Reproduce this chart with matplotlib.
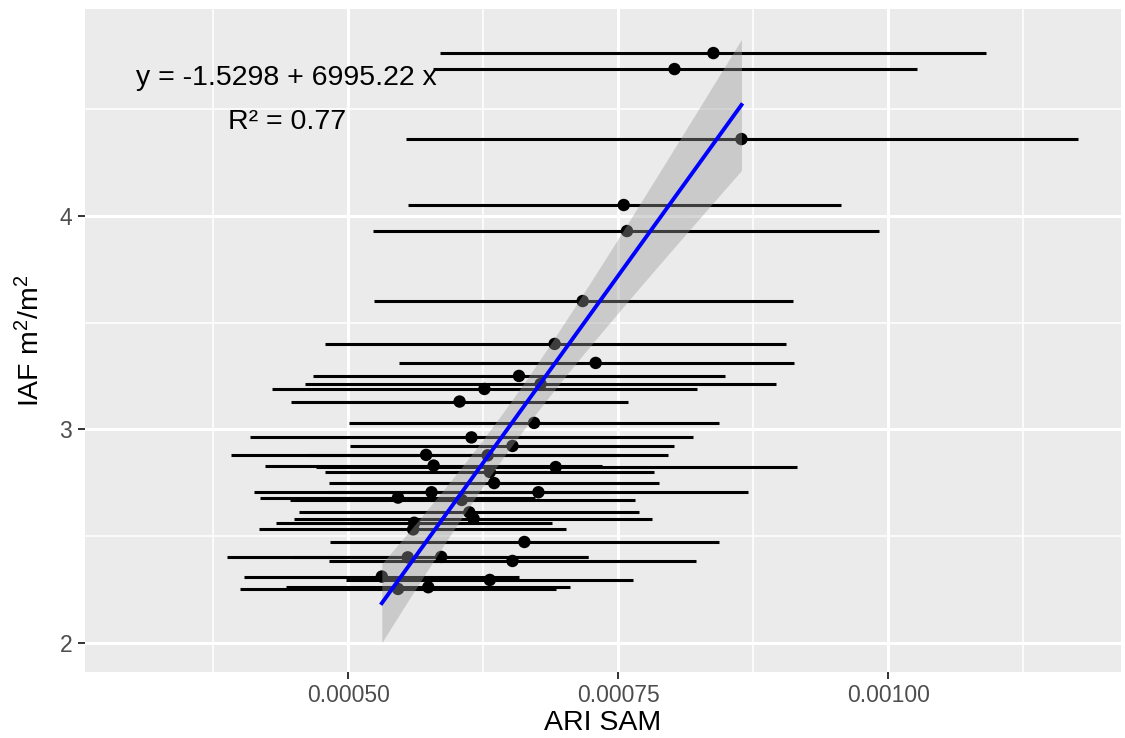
import numpy as np
import matplotlib
matplotlib.use('Agg')
import matplotlib.pyplot as plt

plt.rcParams['font.family'] = ['Liberation Sans', 'DejaVu Sans']
plt.rcParams['mathtext.fontset'] = 'custom'
plt.rcParams['mathtext.rm'] = 'Liberation Sans'
plt.rcParams['mathtext.it'] = 'Liberation Sans'

# ARI SAM (x) with lower / upper error limits, IAF (y)
ari = [0.000838, 0.000802, 0.000864, 0.000755, 0.000758, 0.000717, 0.000691,
       0.000729, 0.000658, 0.000678, 0.000626, 0.000603, 0.000672, 0.000614,
       0.000652, 0.000572, 0.000629, 0.000579, 0.000692, 0.000631, 0.000635,
       0.000577, 0.000676, 0.000546, 0.000605, 0.000612, 0.000616, 0.000561,
       0.000560, 0.000663, 0.000555, 0.000586, 0.000652, 0.000531, 0.000631,
       0.000574, 0.000546]
ari_lo = [0.000585, 0.000578, 0.000553, 0.000555, 0.000523, 0.000524, 0.000478,
          0.000547, 0.000467, 0.000460, 0.000429, 0.000447, 0.000501, 0.000409,
          0.000502, 0.000391, 0.000462, 0.000423, 0.000470, 0.000478, 0.000482,
          0.000413, 0.000481, 0.000418, 0.000446, 0.000454, 0.000450, 0.000433,
          0.000417, 0.000483, 0.000388, 0.000449, 0.000482, 0.000403, 0.000498,
          0.000442, 0.000400]
ari_hi = [0.001090, 0.001027, 0.001176, 0.000956, 0.000991, 0.000912, 0.000905,
          0.000913, 0.000849, 0.000896, 0.000823, 0.000759, 0.000843, 0.000819,
          0.000802, 0.000752, 0.000796, 0.000735, 0.000915, 0.000783, 0.000788,
          0.000741, 0.000870, 0.000673, 0.000765, 0.000769, 0.000781, 0.000689,
          0.000702, 0.000843, 0.000722, 0.000722, 0.000822, 0.000658, 0.000764,
          0.000705, 0.000692]
iaf = [4.763, 4.688, 4.360, 4.051, 3.929, 3.601, 3.400, 3.311, 3.250, 3.212,
       3.189, 3.130, 3.030, 2.962, 2.922, 2.880, 2.878, 2.830, 2.823, 2.800,
       2.748, 2.705, 2.705, 2.680, 2.669, 2.611, 2.581, 2.562, 2.531, 2.472,
       2.400, 2.402, 2.383, 2.310, 2.294, 2.260, 2.252]

eq_label = 'y = -1.5298 + 6995.22 x'
r2_label = 'R² = 0.77'

x = np.array(ari)
y = np.array(iaf)

# linear fit with 95% confidence band (like geom_smooth(method='lm'))
slope, intercept = np.polyfit(x, y, 1)
n = len(x)
resid = y - (intercept + slope * x)
s = np.sqrt(np.sum(resid ** 2) / (n - 2))
sxx = np.sum((x - x.mean()) ** 2)
t_val = 2.03
xs = np.linspace(x.min(), x.max(), 100)
ys = intercept + slope * xs
se = s * np.sqrt(1.0 / n + (xs - x.mean()) ** 2 / sxx)

fig = plt.figure(figsize=(11.25, 7.38), dpi=100)
ax = fig.add_axes([0.0752, 0.0898, 0.9212, 0.8976])
ax.set_facecolor('#EBEBEB')

ax.hlines(y, ari_lo, ari_hi, color='black', linewidth=2.2, zorder=2)
ax.scatter(x, y, s=80, color='black', edgecolors='none', zorder=3)
ax.fill_between(xs, ys - t_val * se, ys + t_val * se, color='#999999',
                alpha=0.4, linewidth=0, zorder=4)
ax.plot(xs, ys, color='blue', linewidth=2.8, zorder=5)

ax.text(0.000443, 4.646, eq_label, ha='center', va='center', fontsize=20.5,
        zorder=6)
ax.text(0.000443, 4.44, r2_label, ha='center', va='center', fontsize=20.5,
        zorder=6)

ax.set_xlim(0.0002558, 0.0012154)
ax.set_ylim(1.864, 4.968)
ax.set_xticks([0.0005, 0.00075, 0.001])
ax.set_xticklabels(['0.00050', '0.00075', '0.00100'])
ax.set_xticks([0.000375, 0.000625, 0.000875, 0.001125], minor=True)
ax.set_yticks([2, 3, 4])
ax.set_yticks([2.5, 3.5, 4.5], minor=True)

ax.grid(which='major', color='white', linewidth=2.2)
ax.grid(which='minor', color='white', linewidth=1.1)
ax.set_axisbelow(True)
for sp in ax.spines.values():
    sp.set_visible(False)

ax.tick_params(which='major', length=5, width=1.4, color='#333333',
               labelsize=16.5, labelcolor='#4D4D4D', pad=4)
ax.tick_params(which='minor', length=0)

ax.set_xlabel('ARI SAM', fontsize=20.5, labelpad=2)
ax.set_ylabel('IAF m$^2$/m$^2$', fontsize=20.5, labelpad=10)

fig.savefig('out.png', dpi=100)
